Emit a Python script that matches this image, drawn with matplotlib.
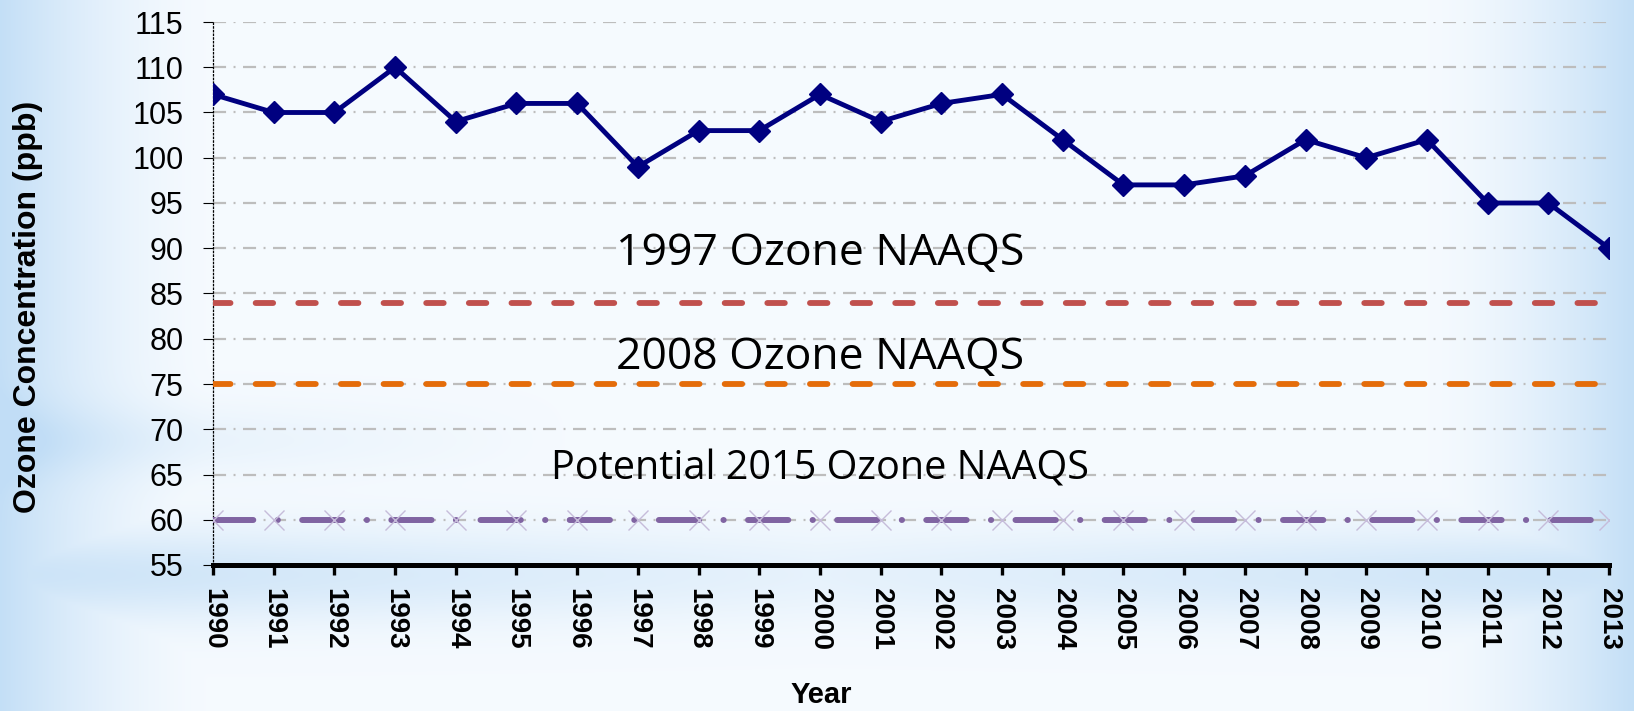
import numpy as np
import matplotlib
matplotlib.use("Agg")
import matplotlib.pyplot as plt
from matplotlib import font_manager

# ---------------- data ----------------
years = list(range(1990, 2014))
ozone = [107, 105, 105, 110, 104, 106, 106, 99, 103, 103, 107, 104, 106, 107,
         102, 97, 97, 98, 102, 100, 102, 95, 95, 90]
naaqs_1997 = 84
naaqs_2008 = 75
naaqs_2015 = 60
label_1997 = "1997 Ozone NAAQS"
label_2008 = "2008 Ozone NAAQS"
label_2015 = "Potential 2015 Ozone NAAQS"
yticks = list(range(55, 116, 5))

# ---------------- fonts ----------------
names = {f.name for f in font_manager.fontManager.ttflist}
narrow = "Liberation Sans Narrow" if "Liberation Sans Narrow" in names else "Liberation Sans"
xtick_size = 22 if narrow == "Liberation Sans Narrow" else 20
plt.rcParams["lines.scale_dashes"] = False

fig = plt.figure(figsize=(16.34, 7.11), dpi=100)

# ---------------- background ----------------
bg = fig.add_axes([0, 0, 1, 1], zorder=-10)
H, W = 240, 480
yy, xx = np.mgrid[0:1:H * 1j, 0:1:W * 1j]
edge = np.clip(1 - np.minimum(xx, 1 - xx) / 0.13, 0, 1) ** 1.6
band = np.exp(-((yy - 0.81) / 0.065) ** 2) * (0.35 + 0.65 * np.abs(2 * xx - 1))
streak = np.exp(-((yy - 0.62) / 0.05) ** 2) * np.clip(1 - xx / 0.35, 0, 1) * 0.35
w = np.clip(np.maximum(edge * 0.9, band * 0.75) + streak + 0.06, 0, 1)
blue = np.array([0.76, 0.87, 0.965])
white = np.array([0.975, 0.988, 1.0])
img = white[None, None, :] * (1 - w[..., None]) + blue[None, None, :] * w[..., None]
bg.imshow(img, aspect="auto", extent=[0, 1, 0, 1], interpolation="bilinear")
bg.set_axis_off()

# ---------------- main axes ----------------
ax = fig.add_axes([213 / 1634, 1 - 565 / 711, 1396 / 1634, 543 / 711])
ax.set_facecolor("none")
ax.set_xlim(years[0], years[-1])
ax.set_ylim(55, 115)

ax.grid(axis="y", color="#BDBDBD", linewidth=1.6,
        linestyle=(0, (9.4, 5.4, 1.4, 5.4)))
ax.set_axisbelow(True)

ax.plot([years[0], years[-1]], [naaqs_1997] * 2, color="#C0504D", linewidth=4.2,
        linestyle=(0, (12.6, 18.1)), dash_capstyle="round", zorder=3)
ax.plot([years[0], years[-1]], [naaqs_2008] * 2, color="#E46C0A", linewidth=4.2,
        linestyle=(0, (12.6, 18.1)), dash_capstyle="round", zorder=3)
ax.plot(years, [naaqs_2015] * len(years), color="#8064A2", linewidth=4.3,
        linestyle=(0, (29.0, 17.5, 0.2, 17.5)), dash_capstyle="round",
        marker="x", markersize=14, markeredgecolor="#C6BCDA",
        markeredgewidth=1.0, zorder=3)

ax.plot(years, ozone, color="#000080", linewidth=3.5, marker="D",
        markersize=11, markeredgewidth=1, markeredgecolor="#000080", zorder=5)

ax.text(2000, 88.15, label_1997, ha="center", va="baseline",
        fontsize=32, family="Open Sans", color="black", zorder=4)
ax.text(2000, 76.66, label_2008, ha="center", va="baseline",
        fontsize=32, family="Open Sans", color="black", zorder=4)
ax.text(2000, 64.4, label_2015, ha="center", va="baseline",
        fontsize=28.5, family="Open Sans", color="black", zorder=4)

# spines
for s in ("top", "right"):
    ax.spines[s].set_visible(False)
ax.spines["left"].set_linestyle(":")
ax.spines["left"].set_linewidth(0.9)
ax.spines["left"].set_color("black")
ax.spines["bottom"].set_linewidth(3.6)
ax.spines["bottom"].set_color("black")
ax.spines["bottom"].set_capstyle("projecting")

ax.set_xticks(years)
ax.set_xticklabels([str(y) for y in years], rotation=270,
                   fontsize=xtick_size, fontweight="bold", family=narrow)
ax.set_yticks(yticks)
ax.set_yticklabels([str(v) for v in yticks], fontsize=22,
                   family="Liberation Sans")
ax.tick_params(axis="x", direction="out", length=7.5, width=2.4, pad=9)
ax.tick_params(axis="y", direction="out", length=7.2, width=0.8, pad=14)

ax.set_ylabel("Ozone Concentration (ppb)", fontsize=23, fontweight="bold",
              family="Liberation Sans")
ax.yaxis.set_label_coords((43 - 213) / 1396, 0.475)
ax.set_xlabel("Year", fontsize=21, fontweight="bold", family="Liberation Sans")
ax.xaxis.set_label_coords((821 - 213) / 1396, (565 - 681) / 543)

fig.savefig("out.png", dpi=100)
